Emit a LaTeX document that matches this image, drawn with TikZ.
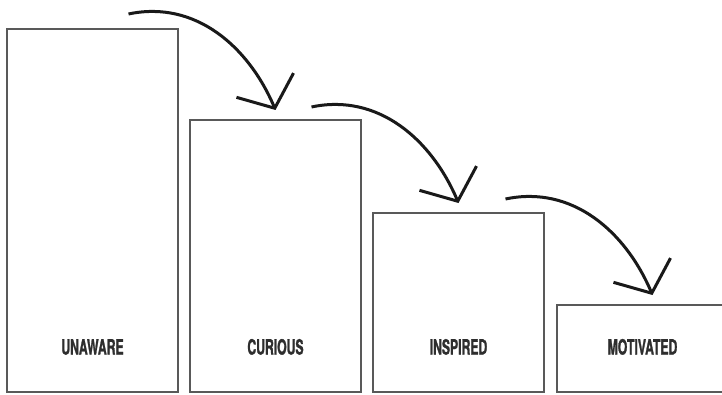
\documentclass[tikz,border=0pt]{standalone}
\usepackage{fontspec}
\newfontfamily\stagefont{TeX Gyre Heros}[FakeStretch=0.58, FakeBold=1.2]
\usepackage{tikz}
\usetikzlibrary{arrows.meta,positioning}

\begin{document}
\begin{tikzpicture}[
    x=1pt, y=1pt,
    node distance=12pt,
    stage/.style={draw=black!65, line width=1.7pt, minimum width=171pt, inner sep=0pt, outer sep=0pt},
    tag/.style={font=\stagefont\bfseries\fontsize{21}{21}\selectfont, text=black!82, inner sep=0pt},
    arr/.style={-{Straight Barb[length=25pt, width=62pt]}, line width=3pt, black!90}
]
\useasboundingbox (0,0) rectangle (722,394);
\clip (0,0) rectangle (722,394);
\node[stage, minimum height=363pt, anchor=south west] (unaware) at (7,2) {};
\node[stage, minimum height=272pt, right=of unaware.south east, anchor=south west] (curious) {};
\node[stage, minimum height=179pt, right=of curious.south east, anchor=south west] (inspired) {};
\node[stage, minimum height=87pt, right=13pt of inspired.south east, anchor=south west] (motivated) {};
\node[tag, above=37pt of unaware.south] (l1) {UNAWARE};
\node[tag, above=37pt of curious.south] (l2) {CURIOUS};
\node[tag, above=37pt of inspired.south] (l3) {INSPIRED};
\node[tag, above=37pt of motivated.south] (l4) {MOTIVATED};
\coordinate[above=10pt of curious.north] (t1);
\coordinate[above=10pt of inspired.north] (t2);
\coordinate[above=10pt of motivated.north, xshift=10pt] (t3);
\coordinate (s1) at ([shift={(-147,96)}]t1);
\coordinate (s2) at ([shift={(-147,96)}]t2);
\coordinate (s3) at ([shift={(-147,96)}]t3);
\draw[arr] (s1) to[out=12, in=113] (t1);
\draw[arr] (s2) to[out=12, in=113] (t2);
\draw[arr] (s3) to[out=12, in=113] (t3);
\end{tikzpicture}
\end{document}
